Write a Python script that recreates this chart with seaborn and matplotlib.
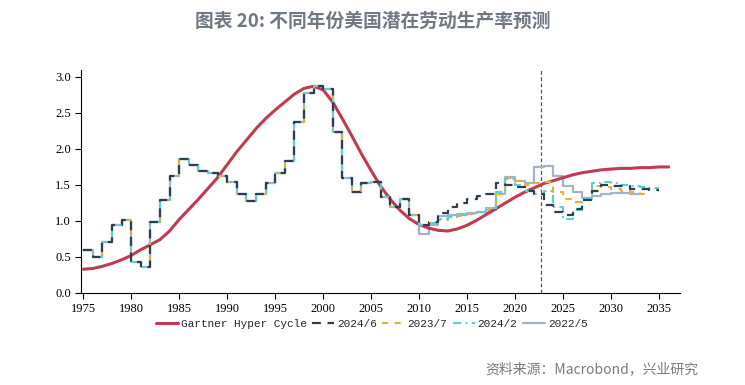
import pandas as pd
import numpy as np
import matplotlib
matplotlib.use("Agg")
import matplotlib.pyplot as plt
import seaborn as sns

# Gartner Hyper Cycle curve (one point per year)
curve_years = list(range(1975, 2037))
curve_vals = [0.33, 0.34, 0.37, 0.41, 0.46, 0.52, 0.60, 0.67, 0.74, 0.86,
              1.02, 1.16, 1.30, 1.45, 1.60, 1.78, 1.96, 2.12, 2.28, 2.42,
              2.54, 2.65, 2.76, 2.84, 2.87, 2.82, 2.65, 2.42, 2.18, 1.93,
              1.70, 1.48, 1.30, 1.15, 1.03, 0.95, 0.90, 0.87, 0.86, 0.89,
              0.94, 1.01, 1.09, 1.17, 1.25, 1.33, 1.40, 1.46, 1.52, 1.56,
              1.60, 1.64, 1.67, 1.69, 1.71, 1.72, 1.73, 1.73, 1.74, 1.74,
              1.75, 1.75]

# shared history 1975-2010
hist = [0.60, 0.50, 0.71, 0.94, 1.01, 0.43, 0.36, 0.99, 1.29, 1.63,
        1.86, 1.78, 1.69, 1.66, 1.63, 1.54, 1.38, 1.28, 1.38, 1.53,
        1.66, 1.83, 2.37, 2.78, 2.88, 2.83, 2.23, 1.59, 1.40, 1.52,
        1.54, 1.33, 1.19, 1.31, 1.08, 0.94]

# vintage values from 2011 on (last value held to the end year)
v2024_6 = [0.99, 1.11, 1.19, 1.25, 1.31, 1.35, 1.38, 1.52, 1.50, 1.47,
           1.42, 1.38, 1.22, 1.12, 1.08, 1.17, 1.29, 1.42, 1.50, 1.49,
           1.48, 1.45, 1.44, 1.43]
v2023_7 = [0.97, 1.02, 1.05, 1.07, 1.09, 1.12, 1.18, 1.38, 1.60, 1.55,
           1.50, 1.52, 1.54, 1.40, 1.30, 1.26, 1.32, 1.48, 1.47, 1.45,
           1.42, 1.40, 1.38]
v2024_2 = [0.97, 1.03, 1.06, 1.08, 1.10, 1.13, 1.18, 1.40, 1.58, 1.50,
           1.42, 1.38, 1.42, 1.19, 1.03, 1.15, 1.31, 1.52, 1.54, 1.52,
           1.50, 1.48, 1.47, 1.46]
v2022_5 = [0.95, 1.07, 1.08, 1.09, 1.11, 1.13, 1.15, 1.38, 1.61, 1.55,
           1.52, 1.75, 1.76, 1.63, 1.49, 1.40, 1.32, 1.35, 1.38, 1.39,
           1.39, 1.38]
hist_2022_5_2010 = 0.82
cut_year = 2022.7


def step_frame(values):
    vals = list(values) + [values[-1]]
    years = list(range(1975, 1975 + len(vals)))
    return pd.DataFrame({'year': years, 'val': vals})


df_curve = pd.DataFrame({'year': curve_years, 'val': curve_vals})
df_a = step_frame(hist + v2024_6)
df_b = step_frame(hist + v2023_7)
df_c = step_frame(hist + v2024_2)
df_d = step_frame(hist[:-1] + [hist_2022_5_2010] + v2022_5)

sns.set_style("white")
plt.rcParams['font.family'] = ['Liberation Serif', 'DejaVu Serif']

fig = plt.figure(figsize=(7.45, 3.85), dpi=100)
ax = fig.add_axes([0.109, 0.239, 0.804, 0.58])

sns.lineplot(data=df_curve, x='year', y='val', ax=ax, color='#c23a4f', lw=2.2,
             label='Gartner Hyper Cycle', zorder=3)
sns.lineplot(data=df_a, x='year', y='val', ax=ax, color='#2e3e4e', lw=1.6,
             drawstyle='steps-post', linestyle=(0, (4, 3)), label='2024/6', zorder=5)
sns.lineplot(data=df_b, x='year', y='val', ax=ax, color='#f0aa35', lw=1.5,
             drawstyle='steps-post', linestyle=(0, (3, 3)), label='2023/7', zorder=4)
sns.lineplot(data=df_c, x='year', y='val', ax=ax, color='#5ccfd6', lw=1.5,
             drawstyle='steps-post', linestyle=(0, (4, 2, 1, 2)), label='2024/2', zorder=4)
sns.lineplot(data=df_d, x='year', y='val', ax=ax, color='#a3b3c9', lw=1.6,
             drawstyle='steps-post', label='2022/5', zorder=2)

ax.axvline(cut_year, color='#555555', lw=0.9, linestyle=(0, (3, 2)), zorder=1)

ax.set_xlim(1974.8, 2037.2)
ax.set_ylim(0, 3.1)
ax.set_xticks(range(1975, 2036, 5))
ax.set_yticks(np.arange(0, 3.01, 0.5))
ax.set_yticklabels([f'{v:.1f}' for v in np.arange(0, 3.01, 0.5)])
ax.set_xlabel('')
ax.set_ylabel('')
ax.tick_params(axis='both', direction='out', length=4, width=0.8,
               labelsize=9, colors='black', bottom=True, left=True)
for s in ['top', 'right']:
    ax.spines[s].set_visible(False)
for s in ['left', 'bottom']:
    ax.spines[s].set_color('black')
    ax.spines[s].set_linewidth(0.8)

ax.legend(loc='upper center', bbox_to_anchor=(0.485, -0.07), ncol=5,
          frameon=False, prop={'family': 'Liberation Mono', 'size': 8},
          handlelength=2.0, handletextpad=0.25, columnspacing=0.5)

fig.text(0.5, 0.945, '图表 20: 不同年份美国潜在劳动生产率预测', ha='center', va='center',
         fontsize=13.5, fontweight='bold', color='#6f7883',
         family=['Noto Sans CJK SC', 'DejaVu Sans'])
fig.text(0.937, 0.04, '资料来源：Macrobond，兴业研究', ha='right', va='center',
         fontsize=10, color='#7a7a7a', family=['Noto Sans CJK SC', 'DejaVu Sans'])

fig.savefig('out.png', dpi=100)
